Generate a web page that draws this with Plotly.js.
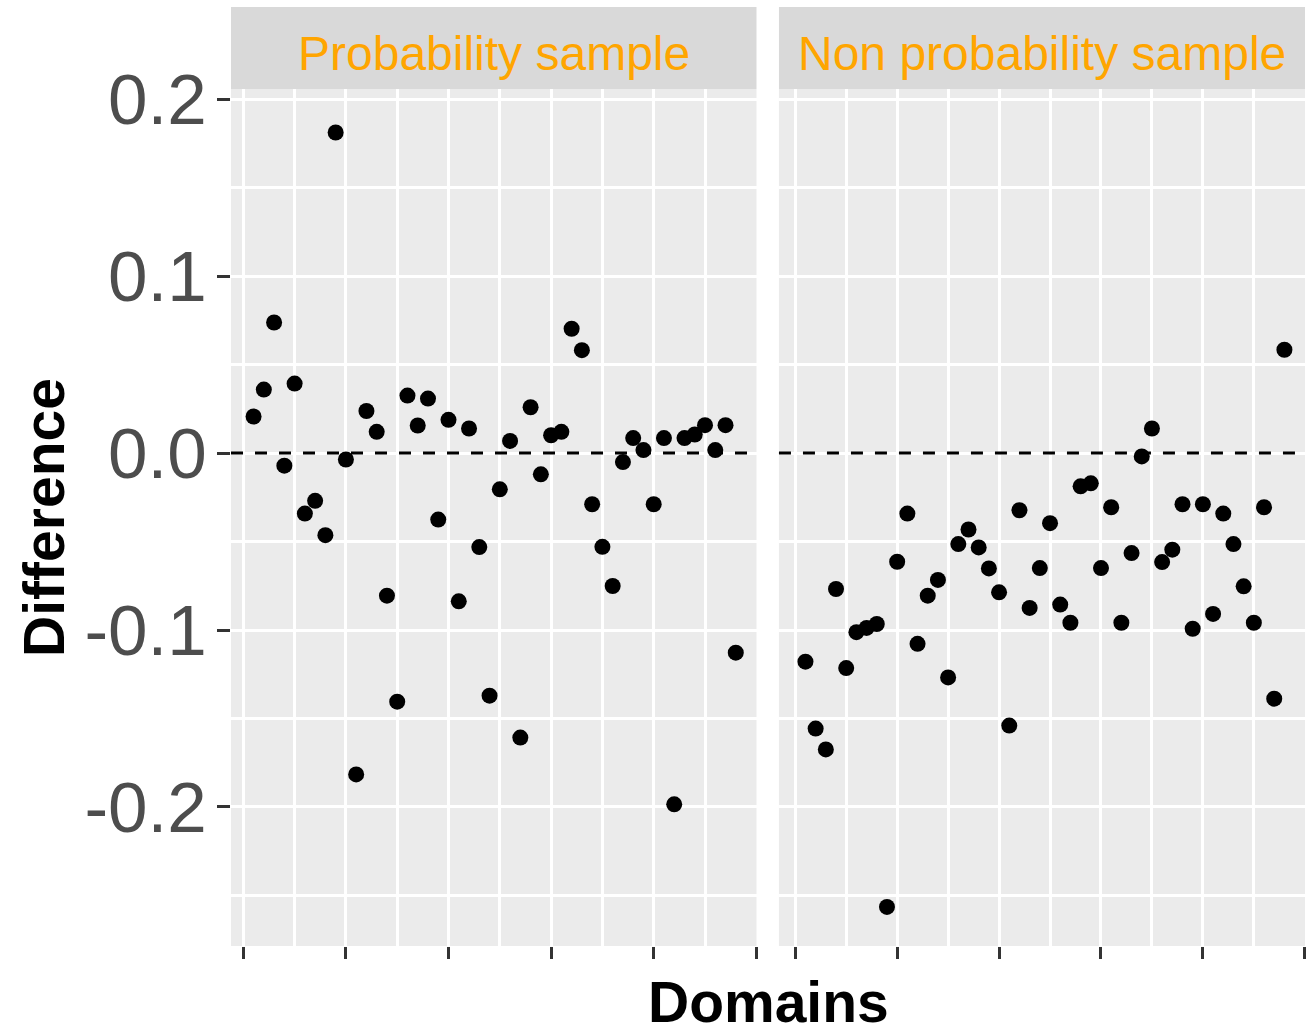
<!DOCTYPE html>
<html>
<head>
<meta charset="utf-8">
<script src="https://cdn.plot.ly/plotly-3.0.1.min.js"></script>
<style>
  html, body { margin: 0; padding: 0; background: #ffffff; }
  #chart { width: 1315px; height: 1031px; }
</style>
</head>
<body>
<div id="chart"></div>
<script>
// ---------- data ----------
const panelNames = ["Probability sample", "Non probability sample"];

const domainIndex = [1,2,3,4,5,6,7,8,9,10,11,12,13,14,15,16,17,18,19,20,21,22,23,24,
                     25,26,27,28,29,30,31,32,33,34,35,36,37,38,39,40,41,42,43,44,45,46,47,48];

const probDiff = [0.0207,0.0359,0.0738,-0.0071,0.0393,-0.0342,-0.0270,-0.0464,0.1812,-0.0036,
                  -0.1816,0.0238,0.0120,-0.0806,-0.1405,0.0325,0.0156,0.0308,-0.0376,0.0188,
                  -0.0838,0.0139,-0.0531,-0.1371,-0.0205,0.0069,-0.1608,0.0259,-0.0120,0.0101,
                  0.0120,0.0703,0.0582,-0.0289,-0.0530,-0.0751,-0.0051,0.0085,0.0017,-0.0289,
                  0.0085,-0.1985,0.0085,0.0105,0.0158,0.0017,0.0158,-0.1128];

const nonProbDiff = [-0.1179,-0.1557,-0.1675,-0.0768,-0.1215,-0.1012,-0.0988,-0.0966,-0.2565,-0.0614,
                     -0.0342,-0.1078,-0.0806,-0.0717,-0.1268,-0.0514,-0.0432,-0.0533,-0.0652,-0.0787,
                     -0.1540,-0.0323,-0.0875,-0.0650,-0.0396,-0.0856,-0.0959,-0.0188,-0.0171,-0.0650,
                     -0.0306,-0.0959,-0.0565,-0.0019,0.0139,-0.0616,-0.0546,-0.0289,-0.0993,-0.0289,
                     -0.0909,-0.0342,-0.0514,-0.0753,-0.0959,-0.0306,-0.1388,0.0584];

const yTickVals = [-0.2, -0.1, 0.0, 0.1, 0.2];
const yTickText = ["-0.2", "-0.1", "0.0", "0.1", "0.2"];
const xTickVals = [0, 10, 20, 30, 40, 50];
const refLineValue = 0;

// ---------- styles ----------
const FONT = "Liberation Sans, Arial, sans-serif";
const panelBg = "#EBEBEB";
const stripBg = "#D9D9D9";
const stripColor = "#FFA500";

const markerStyle = { color: "#000000", size: 16, line: { width: 0 } };

const traces = [
  { type: "scatter", mode: "markers", x: domainIndex, y: probDiff, xaxis: "x", yaxis: "y",
    marker: markerStyle, showlegend: false, hoverinfo: "skip" },
  { type: "scatter", mode: "markers", x: domainIndex, y: nonProbDiff, xaxis: "x2", yaxis: "y2",
    marker: markerStyle, showlegend: false, hoverinfo: "skip" }
];

const xCommon = {
  tickvals: xTickVals, showticklabels: false,
  ticks: "outside", ticklen: 12, tickwidth: 3, tickcolor: "#333333",
  showgrid: true, gridcolor: "#FFFFFF", gridwidth: 3,
  minor: { dtick: 5, tick0: 0, showgrid: true, gridcolor: "#FFFFFF", gridwidth: 3 },
  zeroline: false, showline: false, fixedrange: true
};

const yRange = [-0.2786, 0.2058];
const yCommon = {
  range: yRange, tickvals: yTickVals, ticktext: yTickText,
  showgrid: true, gridcolor: "#FFFFFF", gridwidth: 3,
  minor: { dtick: 0.05, tick0: 0, showgrid: true, gridcolor: "#FFFFFF", gridwidth: 3 },
  zeroline: false, showline: false, fixedrange: true
};

const layout = {
  width: 1315, height: 1031,
  margin: { l: 231, r: 10, t: 89, b: 85, autoexpand: false },
  paper_bgcolor: "#FFFFFF",
  plot_bgcolor: panelBg,
  font: { family: FONT },
  xaxis: Object.assign({}, xCommon, { domain: [0, 0.4893], range: [-1.2, 50.02], anchor: "y" }),
  xaxis2: Object.assign({}, xCommon, { domain: [0.5102, 1], range: [-1.6, 50.02], anchor: "y2" }),
  yaxis: Object.assign({}, yCommon, {
    domain: [0, 1], anchor: "x",
    ticks: "outside", ticklen: 13, tickwidth: 3, tickcolor: "#333333",
    tickfont: { family: FONT, size: 71, color: "#4D4D4D" },
    ticklabelstandoff: -4,
    title: { text: "Difference", font: { family: FONT, size: 57, color: "#000000", weight: "bold" }, standoff: 1 }
  }),
  yaxis2: Object.assign({}, yCommon, {
    domain: [0, 1], anchor: "x2", range: yRange, showticklabels: false, ticks: ""
  }),
  shapes: [
    // facet strips
    { type: "rect", xref: "paper", yref: "paper", x0: 0, x1: 0.4893, y0: 1.0, y1: 1.0957,
      fillcolor: stripBg, line: { width: 0 } },
    { type: "rect", xref: "paper", yref: "paper", x0: 0.5102, x1: 1, y0: 1.0, y1: 1.0957,
      fillcolor: stripBg, line: { width: 0 } },
    // zero reference lines
    { type: "line", xref: "paper", yref: "y", x0: 0, x1: 0.4893, y0: refLineValue, y1: refLineValue,
      line: { color: "#000000", width: 3, dash: "12px,12px" } },
    { type: "line", xref: "paper", yref: "y2", x0: 0.5102, x1: 1, y0: refLineValue, y1: refLineValue,
      line: { color: "#000000", width: 3, dash: "12px,12px" } }
  ],
  annotations: [
    { text: panelNames[0], xref: "paper", yref: "paper", x: 0.24465, y: 1.0420,
      xanchor: "center", yanchor: "middle", showarrow: false,
      font: { family: FONT, size: 48, color: stripColor } },
    { text: panelNames[1], xref: "paper", yref: "paper", x: 0.7551, y: 1.0420,
      xanchor: "center", yanchor: "middle", showarrow: false,
      font: { family: FONT, size: 48, color: stripColor } },
    { text: "Domains", xref: "paper", yref: "paper", x: 0.5, y: -0.0256,
      xanchor: "center", yanchor: "top", showarrow: false,
      font: { family: FONT, size: 57, color: "#000000", weight: "bold" } }
  ]
};

Plotly.newPlot("chart", traces, layout, { staticPlot: true, displayModeBar: false });
</script>
</body>
</html>
